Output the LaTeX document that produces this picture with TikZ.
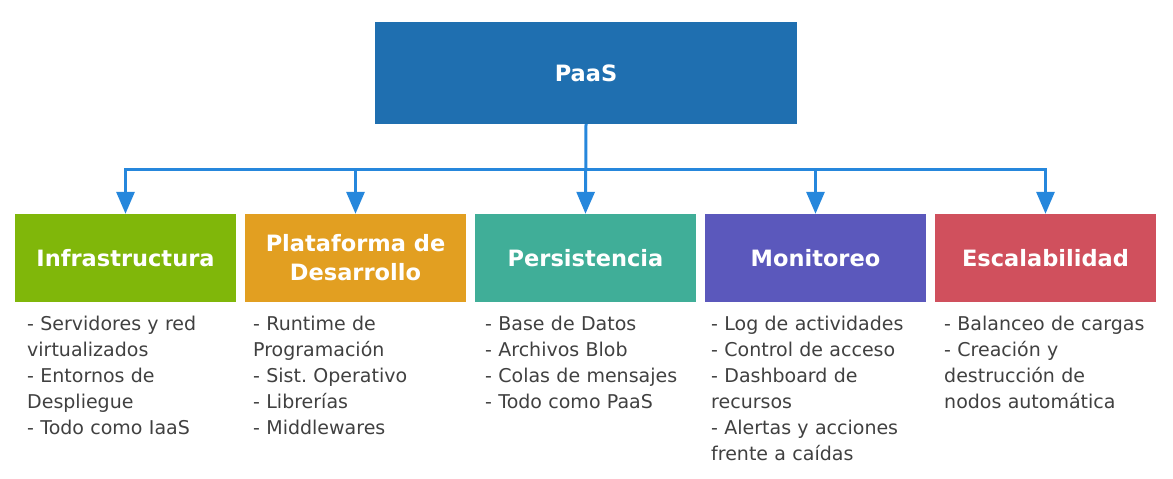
\documentclass[tikz,border=0pt]{standalone}
\usepackage{fontspec}
\setmainfont{DejaVu Sans}
\usetikzlibrary{arrows.meta}
\frenchspacing
\definecolor{paasblue}{HTML}{1F6FB0}
\definecolor{linkblue}{HTML}{2687DC}
\definecolor{infragreen}{HTML}{80B70A}
\definecolor{platorange}{HTML}{E29F21}
\definecolor{persteal}{HTML}{40AE98}
\definecolor{monipurple}{HTML}{5B58BC}
\definecolor{escared}{HTML}{D0505D}
\definecolor{listgray}{HTML}{404040}
\tikzset{
  titlebox/.style={minimum width=221pt, minimum height=88pt, inner sep=0pt,
    align=center, text=white, font=\bfseries\fontsize{22.5}{29}\selectfont},
  itemlist/.style={anchor=base west, align=left, text width=220pt, inner sep=0pt,
    text=listgray, font=\fontsize{19}{26}\selectfont},
  conn/.style={draw=linkblue, line width=3pt, -{Triangle[width=18pt,length=22pt]}}
}
\begin{document}
\begin{tikzpicture}[x=1pt,y=-1pt]
  \useasboundingbox (0,0) rectangle (1173,479);
  % top box
  \node[titlebox, minimum width=422pt, minimum height=102pt, fill=paasblue] (paas) at (586,73) {PaaS};
  % children
  \node[titlebox, fill=infragreen] (infra) at (125.5,258) {Infrastructura};
  \node[titlebox, fill=platorange] (plat) at (355.5,258) {Plataforma de\\Desarrollo};
  \node[titlebox, fill=persteal] (pers) at (585.5,258) {Persistencia};
  \node[titlebox, fill=monipurple] (moni) at (815.5,258) {Monitoreo};
  \node[titlebox, fill=escared] (esca) at (1045.5,258) {Escalabilidad};
  % connectors
  \coordinate (bus) at (586,169);
  \draw[conn] (paas.south) -- (pers.north);
  \draw[conn] (bus) -| (infra.north);
  \draw[conn] (bus) -| (plat.north);
  \draw[conn] (bus) -| (moni.north);
  \draw[conn] (bus) -| (esca.north);
  % lists
  \node[itemlist] (infralist) at (27,330) {- Servidores y red\\virtualizados\\- Entornos de\\Despliegue\\- Todo como IaaS};
  \node[itemlist] (platlist) at (253,330) {- Runtime de\\Programación\\- Sist. Operativo\\- Librerías\\- Middlewares};
  \node[itemlist] (perslist) at (485,330) {- Base de Datos\\- Archivos Blob\\- Colas de mensajes\\- Todo como PaaS};
  \node[itemlist] (monilist) at (711,330) {- Log de actividades\\- Control de acceso\\- Dashboard de\\recursos\\- Alertas y acciones\\frente a caídas};
  \node[itemlist] (escalist) at (944,330) {- Balanceo de cargas\\- Creación y\\destrucción de\\nodos automática};
\end{tikzpicture}
\end{document}
